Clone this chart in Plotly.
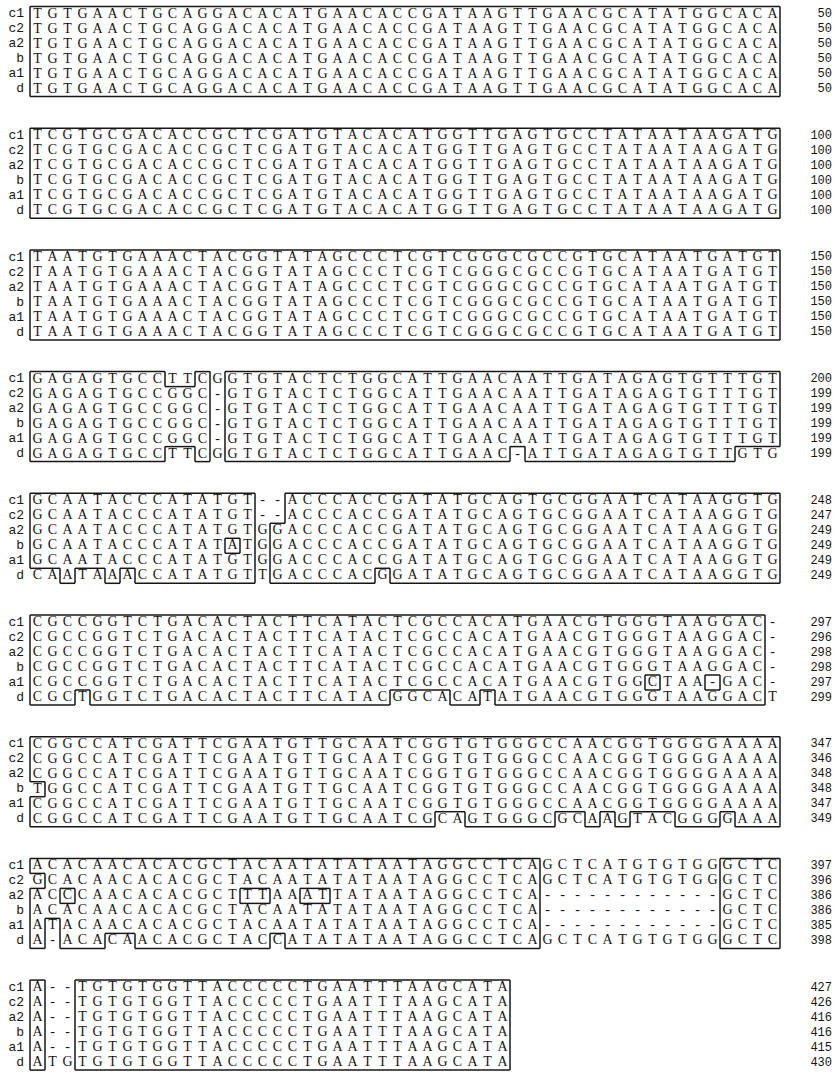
import plotly.graph_objects as go

# ---------------- data ----------------
LABELS = ["c1", "c2", "a2", "b", "a1", "d"]

BLOCK1 = ["TGTGAACTGCAGGACACATGAACACCGATAAGTTGAACGCATATGGCACA"] * 6
BLOCK2 = ["TCGTGCGACACCGCTCGATGTACACATGGTTGAGTGCCTATAATAAGATG"] * 6
BLOCK3 = ["TAATGTGAAACTACGGTATAGCCCTCGTCGGGCGCCGTGCATAATGATGT"] * 6
BLOCK4 = [
    "GAGAGTGCCTTCGGTGTACTCTGGCATTGAACAATTGATAGAGTGTTTGT",
    "GAGAGTGCCGGC-GTGTACTCTGGCATTGAACAATTGATAGAGTGTTTGT",
    "GAGAGTGCCGGC-GTGTACTCTGGCATTGAACAATTGATAGAGTGTTTGT",
    "GAGAGTGCCGGC-GTGTACTCTGGCATTGAACAATTGATAGAGTGTTTGT",
    "GAGAGTGCCGGC-GTGTACTCTGGCATTGAACAATTGATAGAGTGTTTGT",
    "GAGAGTGCCTTCGGTGTACTCTGGCATTGAAC-ATTGATAGAGTGTTGTG",
]
BLOCK5 = [
    "GCAATACCCATATGT--ACCCACCGATATGCAGTGCGGAATCATAAGGTG",
    "GCAATACCCATATGT--ACCCACCGATATGCAGTGCGGAATCATAAGGTG",
    "GCAATACCCATATGTGGACCCACCGATATGCAGTGCGGAATCATAAGGTG",
    "GCAATACCCATATATGGACCCACCGATATGCAGTGCGGAATCATAAGGTG",
    "GCAATACCCATATGTGGACCCACCGATATGCAGTGCGGAATCATAAGGTG",
    "CAATAAACCATATGTTGACCCACGGATATGCAGTGCGGAATCATAAGGTG",
]
BLOCK6 = [
    "CGCCGGTCTGACACTACTTCATACTCGCCACATGAACGTGGGTAAGGAC-",
    "CGCCGGTCTGACACTACTTCATACTCGCCACATGAACGTGGGTAAGGAC-",
    "CGCCGGTCTGACACTACTTCATACTCGCCACATGAACGTGGGTAAGGAC-",
    "CGCCGGTCTGACACTACTTCATACTCGCCACATGAACGTGGGTAAGGAC-",
    "CGCCGGTCTGACACTACTTCATACTCGCCACATGAACGTGGCTAA-GAC-",
    "CGCTGGTCTGACACTACTTCATACGGCACATATGAACGTGGGTAAGGACT",
]
BLOCK7 = [
    "CGGCCATCGATTCGAATGTTGCAATCGGTGTGGGCCAACGGTGGGGAAAA",
    "CGGCCATCGATTCGAATGTTGCAATCGGTGTGGGCCAACGGTGGGGAAAA",
    "CGGCCATCGATTCGAATGTTGCAATCGGTGTGGGCCAACGGTGGGGAAAA",
    "TGGCCATCGATTCGAATGTTGCAATCGGTGTGGGCCAACGGTGGGGAAAA",
    "CGGCCATCGATTCGAATGTTGCAATCGGTGTGGGCCAACGGTGGGGAAAA",
    "CGGCCATCGATTCGAATGTTGCAATCGCAGTGGGCGCAAGTACGGGGAAA",
]
BLOCK8 = [
    "ACACAACACACGCTACAATATATAATAGGCCTCAGCTCATGTGTGGGCTC",
    "GCACAACACACGCTACAATATATAATAGGCCTCAGCTCATGTGTGGGCTC",
    "ACCCAACACACGCTTTAAATTATAATAGGCCTCA------------GCTC",
    "ACACAACACACGCTACAATATATAATAGGCCTCA------------GCTC",
    "ATACAACACACGCTACAATATATAATAGGCCTCA------------GCTC",
    "A-ACACAACACGCTACCATATATAATAGGCCTCAGCTCATGTGTGGGCTC",
]
BLOCK9 = [
    "A--TGTGTGGTTACCCCCTGAATTTAAGCATA",
    "A--TGTGTGGTTACCCCCTGAATTTAAGCATA",
    "A--TGTGTGGTTACCCCCTGAATTTAAGCATA",
    "A--TGTGTGGTTACCCCCTGAATTTAAGCATA",
    "A--TGTGTGGTTACCCCCTGAATTTAAGCATA",
    "ATGTGTGTGGTTACCCCCTGAATTTAAGCATA",
]

END1 = [50, 50, 50, 50, 50, 50]
END2 = [100, 100, 100, 100, 100, 100]
END3 = [150, 150, 150, 150, 150, 150]
END4 = [200, 199, 199, 199, 199, 199]
END5 = [248, 247, 249, 249, 249, 249]
END6 = [297, 296, 298, 298, 297, 299]
END7 = [347, 346, 348, 348, 347, 349]
END8 = [397, 396, 386, 386, 385, 398]
END9 = [427, 426, 416, 416, 415, 430]

BLOCKS = [BLOCK1, BLOCK2, BLOCK3, BLOCK4, BLOCK5, BLOCK6, BLOCK7, BLOCK8, BLOCK9]
ENDS = [END1, END2, END3, END4, END5, END6, END7, END8, END9]

# ---------------- layout geometry (screen pixels) ----------------
W, H = 838, 1081
COL_PX = 15.0        # horizontal pitch of a residue
ROW_PX = 15.0        # vertical pitch of a row
BLOCK_PX = 121.7     # vertical pitch of a block
X0_PX = 37.5         # centre of first residue column
Y0_PX = 14.0         # centre of first row
LABEL_X_PX = 24.0
NUM_X_PX = 832.0

BLOCK_ROWS = BLOCK_PX / ROW_PX


def px_to_col(px):
    return 1 + (px - X0_PX) / COL_PX


xr = [px_to_col(0), px_to_col(W)]
yr = [(H - Y0_PX) / ROW_PX, -Y0_PX / ROW_PX]

INK = "#161616"

fig = go.Figure()

seg_v = {}
seg_h = {}

for b, (seqs, ends) in enumerate(zip(BLOCKS, ENDS)):
    base = b * BLOCK_ROWS
    n = len(seqs)
    L = max(len(s) for s in seqs)
    # boxed = residue identical to a strict majority of the column
    grid = []
    for i, s in enumerate(seqs):
        row = []
        for c in range(L):
            ch = s[c]
            colchars = [t[c] for t in seqs]
            row.append(ch != "-" and colchars.count(ch) > n / 2)
        grid.append(row)
    for i in range(n):
        for c in range(L + 1):
            left = grid[i][c - 1] if c > 0 else False
            right = grid[i][c] if c < L else False
            if left != right:
                x = c + 0.5
                seg_v.setdefault(x, []).append((base + i - 0.5, base + i + 0.5))
    for c in range(L):
        for i in range(n + 1):
            above = grid[i - 1][c] if i > 0 else False
            below = grid[i][c] if i < n else False
            if above != below:
                y = base + i - 0.5
                seg_h.setdefault(y, []).append((c + 0.5, c + 1.5))

    xs, ys, ts = [], [], []
    for i, s in enumerate(seqs):
        for c, ch in enumerate(s):
            xs.append(c + 1)
            ys.append(base + i)
            ts.append(ch)
    fig.add_trace(go.Scatter(
        x=xs, y=ys, text=ts, mode="text", textposition="middle center",
        textfont=dict(family="Liberation Serif", size=14, color=INK),
        cliponaxis=False, hoverinfo="skip", showlegend=False))
    fig.add_trace(go.Scatter(
        x=[px_to_col(LABEL_X_PX)] * n, y=[base + i for i in range(n)], text=LABELS,
        mode="text", textposition="middle left",
        textfont=dict(family="Liberation Mono", size=13, color=INK),
        cliponaxis=False, hoverinfo="skip", showlegend=False))
    fig.add_trace(go.Scatter(
        x=[px_to_col(NUM_X_PX)] * n, y=[base + i for i in range(n)],
        text=[str(v) for v in ends],
        mode="text", textposition="middle left",
        textfont=dict(family="Liberation Mono", size=12, color=INK),
        cliponaxis=False, hoverinfo="skip", showlegend=False))


def merge(segs):
    segs = sorted(segs)
    out = []
    for a, z in segs:
        if out and abs(out[-1][1] - a) < 1e-9:
            out[-1] = (out[-1][0], z)
        else:
            out.append((a, z))
    return out


lx, ly = [], []
for x, segs in seg_v.items():
    for a, z in merge(segs):
        lx += [x, x, None]
        ly += [a, z, None]
for y, segs in seg_h.items():
    for a, z in merge(segs):
        lx += [a, z, None]
        ly += [y, y, None]

fig.add_trace(go.Scatter(
    x=lx, y=ly, mode="lines", line=dict(color=INK, width=1.5),
    cliponaxis=False, hoverinfo="skip", showlegend=False))

fig.update_layout(
    width=W, height=H, margin=dict(l=0, r=0, t=0, b=0),
    paper_bgcolor="white", plot_bgcolor="white",
    hovermode=False,
    xaxis=dict(range=xr, visible=False, fixedrange=True),
    yaxis=dict(range=yr, visible=False, fixedrange=True),
)

# remove the browser's default 8px page margin so the figure fills the window
fig.write_html(
    "out.html",
    config={"displayModeBar": False, "staticPlot": True},
    post_script="document.body.style.margin='0';"
                "document.documentElement.style.overflow='hidden';",
)
